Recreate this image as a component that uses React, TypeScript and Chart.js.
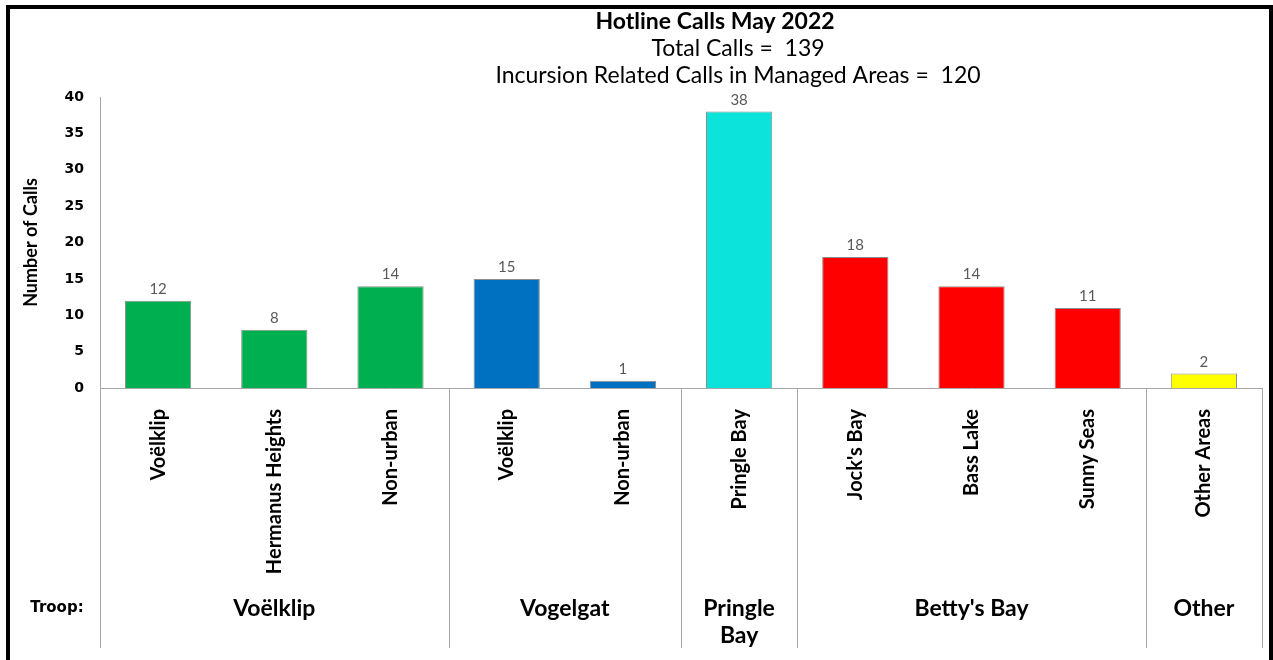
import React, { useEffect, useRef } from "react";
import { Chart, registerables } from "chart.js";

Chart.register(...registerables);

const chartTitle = "Hotline Calls May 2022";
const chartSubtitles = ["Total Calls =  139", "Incursion Related Calls in Managed Areas =  120"];
const yAxisTitle = "Number of Calls";
const troopCaption = "Troop:";

const categories = [
  "Voëlklip",
  "Hermanus Heights",
  "Non-urban",
  "Voëlklip",
  "Non-urban",
  "Pringle Bay",
  "Jock's Bay",
  "Bass Lake",
  "Sunny Seas",
  "Other Areas",
];
const calls = [12, 8, 14, 15, 1, 38, 18, 14, 11, 2];

const troopLabels: (string | string[])[] = ["Voëlklip", "Vogelgat", ["Pringle", "Bay"], "Betty's Bay", "Other"];
const troopSizes = [3, 2, 1, 3, 1];
const troopColors = ["#00B050", "#0070C0", "#0BE3DB", "#FF0000", "#FFFF00"];

const yMin = 0;
const yMax = 40;
const yStep = 5;

const barColors: string[] = [];
troopSizes.forEach((n, i) => {
  for (let k = 0; k < n; k++) barColors.push(troopColors[i]);
});

const overlayPlugin = {
  id: "overlay",
  afterDraw(chart: any) {
    const { ctx, chartArea, scales } = chart;
    const x = scales.x;
    const meta = chart.getDatasetMeta(0);
    ctx.save();

    // data labels
    ctx.fillStyle = "#595959";
    ctx.font = "15px Lato";
    ctx.textAlign = "center";
    ctx.textBaseline = "bottom";
    meta.data.forEach((bar: any, i: number) => {
      ctx.fillText(String(calls[i]), bar.x, bar.y - 4);
    });

    // group separators and labels
    const bottomY = 648;
    const half = (x.getPixelForValue(1) - x.getPixelForValue(0)) / 2;
    const bounds: number[] = [x.left];
    let idx = 0;
    troopSizes.forEach((n) => {
      idx += n;
      bounds.push(idx >= categories.length ? x.right : x.getPixelForValue(idx) - half);
    });
    ctx.strokeStyle = "#a6a6a6";
    ctx.lineWidth = 1;
    bounds.forEach((bx) => {
      const px = Math.round(bx) + 0.5;
      ctx.beginPath();
      ctx.moveTo(px, chartArea.bottom);
      ctx.lineTo(px, bottomY);
      ctx.stroke();
    });

    ctx.fillStyle = "#000";
    ctx.font = "bold 23px Lato";
    ctx.textAlign = "center";
    ctx.textBaseline = "middle";
    troopLabels.forEach((lab, i) => {
      const cx = (bounds[i] + bounds[i + 1]) / 2;
      const lines = Array.isArray(lab) ? lab : [lab];
      lines.forEach((ln, j) => ctx.fillText(ln, cx, 609 + j * 27));
    });

    ctx.font = "bold 15px 'DejaVu Sans'";
    ctx.fillText(troopCaption, 57, 608);

    // titles
    const mid = (chartArea.left + chartArea.right) / 2;
    ctx.font = "bold 23px Lato";
    ctx.fillText(chartTitle, mid + 34, 22);
    ctx.font = "23px Lato";
    chartSubtitles.forEach((t, i) => ctx.fillText(t, mid + 57, 49 + i * 27));

    // frame
    ctx.strokeStyle = "#000";
    ctx.lineWidth = 4;
    ctx.strokeRect(8, 7, 1263, 700);
    ctx.restore();
  },
};

export default function App() {
  const ref = useRef<HTMLCanvasElement | null>(null);

  useEffect(() => {
    if (!ref.current) return;
    const chart = new Chart(ref.current, {
      type: "bar",
      data: {
        labels: categories,
        datasets: [
          {
            data: calls,
            backgroundColor: barColors,
            borderColor: "rgba(0,0,0,0.45)",
            borderWidth: 1,
            barPercentage: 0.57,
            categoryPercentage: 1,
          },
        ],
      },
      options: {
        animation: false,
        responsive: false,
        maintainAspectRatio: false,
        layout: { padding: { top: 97, left: 10, right: 11, bottom: 0 } },
        plugins: {
          legend: { display: false },
          tooltip: { enabled: false },
          title: { display: false },
        },
        scales: {
          x: {
            grid: { display: false, drawTicks: false },
            border: { display: true, color: "#a6a6a6", width: 1 },
            ticks: {
              autoSkip: false,
              minRotation: 90,
              maxRotation: 90,
              padding: 21,
              color: "#000",
              font: { family: "Lato", size: 20, weight: "bold" },
            },
            afterFit: (s: any) => {
              s.height = 272;
            },
          },
          y: {
            min: yMin,
            max: yMax,
            grid: { display: false, drawTicks: false },
            border: { display: true, color: "#a6a6a6", width: 1 },
            ticks: {
              stepSize: yStep,
              padding: 16,
              color: "#000",
              font: { family: "'DejaVu Sans'", size: 14, weight: "bold" },
            },
            title: {
              display: true,
              text: yAxisTitle,
              color: "#000",
              font: { family: "Lato", size: 18, weight: "bold" },
              padding: { top: 10, bottom: 0 },
            },
            afterFit: (s: any) => {
              s.width = 90;
            },
          },
        },
      },
      plugins: [overlayPlugin],
    });
    return () => chart.destroy();
  }, []);

  return (
    <div style={{ position: "absolute", left: 0, top: 0, width: 1273, height: 660, background: "#fff" }}>
      <canvas ref={ref} width={1273} height={660} style={{ display: "block" }} />
    </div>
  );
}
